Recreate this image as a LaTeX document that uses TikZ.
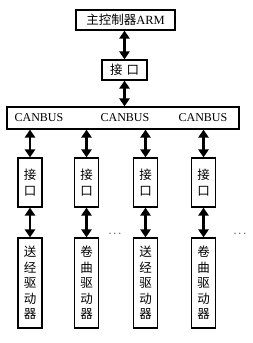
\documentclass[tikz,border=0pt]{standalone}
\usepackage{fontspec}
\setmainfont{Liberation Serif}
\newfontfamily\cjk{Noto Sans CJK SC}
\usetikzlibrary{arrows.meta}
\tikzset{
  box/.style={draw, line width=1.1pt, inner sep=0pt, font=\cjk\fontsize{12.5}{15.5}\selectfont, align=center},
  bibar/.style={line width=2.2pt, {Triangle[length=8pt,width=10pt]}-{Triangle[length=8pt,width=10pt]}},
  lbl/.style={font=\fontsize{12}{13}\selectfont}
}
\begin{document}
\begin{tikzpicture}[x=1pt,y=-1pt]
\useasboundingbox (0,0) rectangle (252,343);
\node[box, minimum width=99pt, minimum height=20pt] (arm) at (125.5,20) {主控制器{\rmfamily ARM}};
\node[box, minimum width=45pt, minimum height=20pt] (mid) at (124.5,70) {接\hspace{4pt}口};
\node[box, minimum width=232pt, minimum height=22pt] (bus) at (123,118) {};
\node[lbl] (c1) at (39,117.5) {CANBUS};
\node[lbl] (c2) at (125,117.5) {CANBUS};
\node[lbl] (c3) at (203,117.5) {CANBUS};
\draw[bibar] (mid.north |- arm.south) -- (mid.north);
\draw[bibar] (mid.south) -- (mid.south |- bus.north);
\foreach \i/\x/\t in {1/30/送\\经\\驱\\动\\器, 2/86.5/卷\\曲\\驱\\动\\器, 3/145.5/送\\经\\驱\\动\\器, 4/203.5/卷\\曲\\驱\\动\\器}{
  \node[box, minimum width=24pt, minimum height=49pt] (ik\i) at (\x,182.5) {接\\口};
  \node[box, minimum width=24pt, minimum height=90pt] (dr\i) at (\x,283) {\t};
  \draw[bibar] (ik\i.north |- bus.south) -- (ik\i.north);
  \draw[bibar] (ik\i.south) -- (dr\i.north);
}
\node[font=\fontsize{11}{12}\selectfont] (d1) at (115,234) {$\cdots$};
\node[font=\fontsize{11}{12}\selectfont] (d2) at (240,234) {$\cdots$};
\end{tikzpicture}
\end{document}
